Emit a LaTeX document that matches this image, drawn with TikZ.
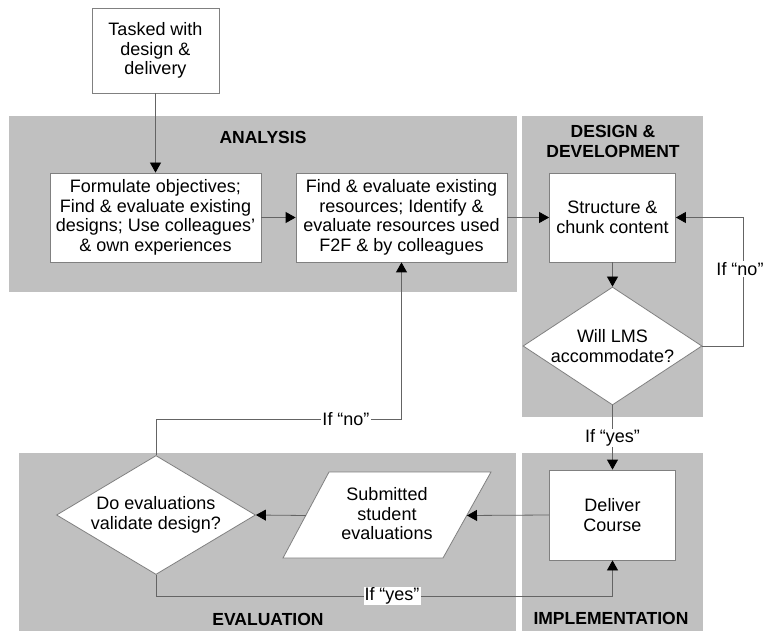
\documentclass[tikz,border=0pt]{standalone}
\usepackage{fontspec}
\setmainfont{Liberation Sans}
\usetikzlibrary{arrows.meta,shapes.geometric}
\definecolor{panel}{RGB}{192,192,192}
\definecolor{edgec}{RGB}{100,100,100}
\definecolor{borderc}{RGB}{128,128,128}
\begin{document}
\begin{tikzpicture}[x=1pt,y=-1pt,
  procbox/.style={rectangle, draw=borderc, fill=white, line width=0.8pt, inner sep=0pt, align=center, font=\fontsize{18}{19.5}\selectfont},
  dia/.style={diamond, draw=borderc, fill=white, line width=0.8pt, inner sep=0pt},
  txt/.style={align=center, inner sep=0pt, font=\fontsize{18}{19.5}\selectfont},
  head/.style={align=center, inner sep=0pt, font=\fontsize{17.5}{19.5}\selectfont\bfseries},
  lbl/.style={fill=white, inner sep=1pt, font=\fontsize{18}{19.5}\selectfont},
  arr/.style={draw=edgec, line width=0.8pt, -{Triangle[length=10pt,width=11pt,color=black]}},
  conn/.style={draw=edgec, line width=0.8pt}
]
\useasboundingbox (0,0) rectangle (764,631);
% panels
\fill[panel] (9,116) rectangle (517,292);
\fill[panel] (522,116) rectangle (703,417);
\fill[panel] (19,453) rectangle (516,631);
\fill[panel] (522,453) rectangle (703,631);
% headers
\node[head] (hA) at (263,137) {ANALYSIS};
\node[head] (hD) at (613,141.5) {DESIGN \&\\DEVELOPMENT};
\node[head] (hE) at (268,619) {EVALUATION};
\node[head] (hI) at (611,618) {IMPLEMENTATION};
% boxes
\node[procbox, minimum width=127pt, minimum height=85pt] (t) at (155.5,50.5) {Tasked with\\design \&\\delivery};
\node[procbox, minimum width=211pt, minimum height=89pt] (b1) at (155.5,217.5) {Formulate objectives;\\Find \& evaluate existing\\designs; Use colleagues’\\\& own experiences};
\node[procbox, minimum width=211pt, minimum height=89pt] (b2) at (401.5,217.5) {Find \& evaluate existing\\resources; Identify \&\\evaluate resources used\\F2F \& by colleagues};
\node[procbox, minimum width=126pt, minimum height=89pt] (b3) at (612.5,217.5) {Structure \&\\chunk content};
\node[dia, minimum width=179pt, minimum height=118pt] (lms) at (612.5,346) {};
\node[txt] (lmst) at (lms) {Will LMS\\accommodate?};
\node[procbox, minimum width=126pt, minimum height=90pt] (dc) at (612.5,515) {Deliver\\Course};
\draw[borderc, fill=white, line width=0.8pt] (283,558) -- (443,558) -- (491,472) -- (329,472) -- cycle;
\node[txt] (sub) at (387,514) {Submitted\\student\\evaluations};
\coordinate (pR) at (467,515.5);
\coordinate (pL) at (306,515.5);
\node[dia, minimum width=199pt, minimum height=119pt] (d2) at (156,515) {};
\node[txt] (d2t) at (d2) {Do evaluations\\validate design?};
% connectors
\coordinate (c1) at (401.5,419);
\coordinate (c2) at (743,346);
\coordinate (c3) at (612.5,596);
\draw[arr] (t.south) -- (b1.north);
\draw[arr] (b1.east) -- (b2.west);
\draw[arr] (b2.east) -- (b3.west);
\draw[arr] (b3.south) -- (lms.north);
\draw[arr] (lms.east) -- (c2) |- (b3.east);
\draw[arr] (lms.south) -- (dc.north);
\draw[arr] (dc.west) -- (pR);
\draw[arr] (pL) -- (d2.east);
\draw[arr] (d2.north) |- (c1) -- (b2.south);
\draw[arr] (d2.south) |- (c3) -- (dc.south);
% labels
\node[lbl] (l1) at (740,269) {If “no”};
\node[lbl] (l2) at (612.5,438) {If “yes”};
\node[lbl] (l3) at (346,419) {If “no”};
\node[lbl] (l4) at (392,596) {If “yes”};
\end{tikzpicture}
\end{document}
